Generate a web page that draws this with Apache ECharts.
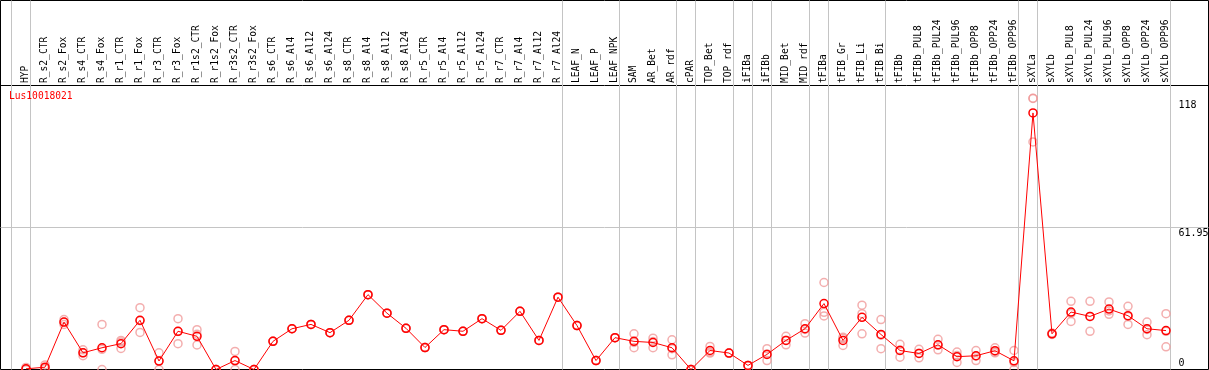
<!DOCTYPE html>
<html>
<head>
<meta charset="utf-8">
<script src="https://cdn.jsdelivr.net/npm/echarts@6/dist/echarts.min.js"></script>
<style>
    html, body { margin: 0; padding: 0; background: #fff; }
    #graphic-expression { width: 1209px; height: 370px; }
</style>
</head>
<body>
<div id="graphic-expression"></div>
<script>
// Noms des échantillons (axe du haut)
const categories = [
    'HYP', 'R_s2_CTR', 'R_s2_Fox', 'R_s4_CTR', 'R_s4_Fox', 'R_r1_CTR', 'R_r1_Fox',
    'R_r3_CTR', 'R_r3_Fox', 'R_r1s2_CTR', 'R_r1s2_Fox', 'R_r3s2_CTR', 'R_r3s2_Fox',
    'R_s6_CTR', 'R_s6_Al4', 'R_s6_Al12', 'R_s6_Al24', 'R_s8_CTR', 'R_s8_Al4', 'R_s8_Al12', 'R_s8_Al24',
    'R_r5_CTR', 'R_r5_Al4', 'R_r5_Al12', 'R_r5_Al24', 'R_r7_CTR', 'R_r7_Al4', 'R_r7_Al12', 'R_r7_Al24',
    'LEAF_N', 'LEAF_P', 'LEAF_NPK', 'SAM', 'AR_Bet', 'AR_rdf', 'cPAR', 'TOP_Bet', 'TOP_rdf',
    'iFIBa', 'iFIBb', 'MID_Bet', 'MID_rdf', 'tFIBa', 'tFIB_Gr', 'tFIB_Li', 'tFIB_Bi',
    'tFIBb', 'tFIBb_PUL8', 'tFIBb_PUL24', 'tFIBb_PUL96', 'tFIBb_OPP8', 'tFIBb_OPP24', 'tFIBb_OPP96',
    'sXYLa', 'sXYLb', 'sXYLb_PUL8', 'sXYLb_PUL24', 'sXYLb_PUL96', 'sXYLb_OPP8', 'sXYLb_OPP24', 'sXYLb_OPP96'
];

// Moyennes (ligne rouge)
const meanValues = [
    0.3, 1.0, 20.7, 7.3, 9.5, 11.3, 21.5, 3.7, 16.7, 14.5, 0, 3.9, 0,
    12.3, 17.8, 19.7, 16.1, 21.5, 32.7, 24.6, 18.0,
    9.6, 17.4, 16.7, 22.2, 17.1, 25.4, 12.7, 31.6,
    19.2, 3.9, 13.9, 12.3, 11.8, 9.5, 0, 8.3, 7.2,
    1.8, 6.6, 12.7, 17.8, 28.8, 12.7, 22.8, 15.3,
    8.3, 7.0, 10.8, 5.6, 6.0, 8.2, 3.8,
    112.1, 15.6, 25.1, 23.2, 26.4, 23.5, 17.8, 17.0
];

// Réplicats (cercles pâles)
const rep1 = [
    0, 2.0, 21.8, 8.6, 19.7, 12.7, 27.0, 7.3, 22.2, 17.4, 0, 7.9, 0,
    12.3, 17.8, 19.7, 16.1, 21.5, 32.7, 24.6, 18.0,
    9.6, 17.4, 16.7, 22.2, 17.1, 25.4, 12.7, 31.6,
    19.2, 3.9, 13.9, 15.6, 13.7, 13.0, 0, 10.1, 7.2,
    1.8, 9.1, 14.5, 20.0, 38.0, 10.5, 28.1, 21.8,
    11.0, 8.8, 13.2, 7.6, 8.3, 9.5, 8.3,
    118.4, 15.9, 29.8, 29.8, 29.5, 27.6, 20.7, 24.4
];
const rep2 = [
    0.9, 0.3, 19.7, 6.0, 0, 9.2, 16.2, 0, 11.3, 10.7, 0, 0, 0,
    12.3, 17.8, 19.7, 16.1, 21.5, 32.7, 24.6, 18.0,
    9.6, 17.4, 16.7, 22.2, 17.1, 25.4, 12.7, 31.6,
    19.2, 3.9, 13.9, 9.5, 9.5, 6.4, 0, 7.6, 7.2,
    1.8, 3.9, 10.8, 15.9, 23.4, 13.5, 24.4, 9.1,
    5.4, 5.1, 8.6, 3.1, 3.9, 7.3, 0,
    99.4, 15.3, 21.0, 16.7, 24.1, 19.7, 15.2, 9.9
];
const rep3 = [
    0, 0.7, 20.6, 7.3, 8.8, 12.0, 21.3, 3.8, 16.6, 15.4, 0, 3.8, 0,
    12.3, 17.8, 19.7, 16.1, 21.5, 32.7, 24.6, 18.0,
    9.6, 17.4, 16.7, 22.2, 17.1, 25.4, 12.7, 31.6,
    19.2, 3.9, 13.9, 11.8, 12.2, 9.1, 0, 7.2, 7.2,
    1.8, 6.8, 12.8, 17.5, 25.0, 14.1, 15.6, 15.0,
    8.5, 7.1, 10.6, 6.1, 5.8, 7.8, 3.1,
    118.5, 15.6, 24.5, 23.1, 25.6, 23.2, 17.5, 16.7
];

// Séparateurs de groupes (après l'index donné) et graduations de droite
const groupEnds = [-1, 0, 28, 31, 34, 35, 37, 38, 39, 41, 42, 45, 52, 53, 60];
const yTicks = [0, 61.95, 118];
const geneName = 'Lus10018021';

const Expression = {
    chart: null,
    option: null,

    init: function() {
        const chartDom = document.getElementById('graphic-expression');
        this.chart = echarts.init(chartDom, null, { renderer: 'canvas' });

        const font = 'DejaVu Sans Mono';
        const toPoints = arr => arr.map((v, i) => [i, v]);
        const repData = [].concat(toPoints(rep1), toPoints(rep2), toPoints(rep3));

        // lignes grises verticales entre les groupes + ligne horizontale du milieu
        const markData = groupEnds.map(i => ({ xAxis: i + 0.23 }));
        markData.push({ yAxis: 61.95 });

        this.option = {
            animation: false,
            title: {
                text: geneName,
                left: 9,
                top: 91,
                padding: 0,
                textStyle: { color: '#ff0000', fontSize: 9.6, fontWeight: 'normal', fontFamily: font }
            },
            grid: {
                left: 0.5, right: 0.5, top: 0.5, bottom: 0.5,
                outerBoundsMode: 'none',
                show: true, borderColor: '#000', borderWidth: 1
            },
            xAxis: {
                type: 'value',
                position: 'top',
                offset: -84.5, // ligne noire sous les étiquettes
                min: -1.342,
                max: 62.237,
                axisLine: { show: true, onZero: false, lineStyle: { color: '#000', width: 1 } },
                axisTick: { show: false },
                splitLine: { show: false },
                axisLabel: {
                    customValues: categories.map((c, i) => i),
                    rotate: -90,
                    margin: 2,
                    fontSize: 9.6,
                    fontFamily: font,
                    color: '#000',
                    formatter: v => categories[Math.round(v)]
                }
            },
            yAxis: {
                type: 'value',
                position: 'right',
                min: 0,
                max: 161.2,
                axisLine: { show: false },
                axisTick: { show: false },
                splitLine: { show: false },
                axisLabel: {
                    customValues: yTicks,
                    align: 'left',
                    verticalAlign: 'middle',
                    margin: -30,
                    fontSize: 10,
                    fontFamily: font,
                    color: '#000',
                    formatter: v => (v === 0 ? '{b|0}' : '{t|' + v + '}'),
                    rich: {
                        t: { padding: [12, 0, 0, 0], lineHeight: 12, fontSize: 10, fontFamily: font, color: '#000' },
                        b: { padding: [0, 0, 12, 0], lineHeight: 12, fontSize: 10, fontFamily: font, color: '#000' }
                    }
                }
            },
            series: [
                {
                    name: 'replicats',
                    type: 'scatter',
                    symbol: 'circle',
                    symbolSize: 8,
                    z: 2,
                    itemStyle: { color: 'rgba(0,0,0,0)', borderColor: '#f09a9a', borderWidth: 1.5 },
                    data: repData
                },
                {
                    name: geneName,
                    type: 'line',
                    symbol: 'circle',
                    symbolSize: 8,
                    z: 3,
                    lineStyle: { color: '#ff0000', width: 1 },
                    itemStyle: { color: 'rgba(0,0,0,0)', borderColor: '#ff0000', borderWidth: 1.5 },
                    data: toPoints(meanValues),
                    markLine: {
                        silent: true,
                        symbol: 'none',
                        label: { show: false },
                        lineStyle: { color: '#c4c4c4', width: 1, type: 'solid' },
                        z: 1,
                        data: markData
                    }
                }
            ]
        };

        this.chart.setOption(this.option);
        window.addEventListener('resize', this.chart.resize);
    }
};

Expression.init();
</script>
</body>
</html>
